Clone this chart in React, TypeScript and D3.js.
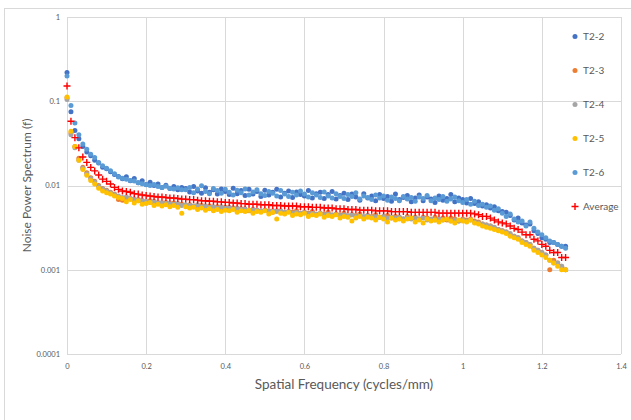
import React, { useRef, useEffect } from "react";
import * as d3 from "d3";

// Spatial frequency sampling (cycles/mm)
const FREQ = [
  0, 0.01, 0.02, 0.03, 0.04, 0.05, 0.06, 0.07, 0.08, 0.09,
  0.1, 0.11, 0.12, 0.13, 0.14, 0.15, 0.16, 0.17, 0.18, 0.19,
  0.2, 0.21, 0.22, 0.23, 0.24, 0.25, 0.26, 0.27, 0.28, 0.29,
  0.3, 0.31, 0.32, 0.33, 0.34, 0.35, 0.36, 0.37, 0.38, 0.39,
  0.4, 0.41, 0.42, 0.43, 0.44, 0.45, 0.46, 0.47, 0.48, 0.49,
  0.5, 0.51, 0.52, 0.53, 0.54, 0.55, 0.56, 0.57, 0.58, 0.59,
  0.6, 0.61, 0.62, 0.63, 0.64, 0.65, 0.66, 0.67, 0.68, 0.69,
  0.7, 0.71, 0.72, 0.73, 0.74, 0.75, 0.76, 0.77, 0.78, 0.79,
  0.8, 0.81, 0.82, 0.83, 0.84, 0.85, 0.86, 0.87, 0.88, 0.89,
  0.9, 0.91, 0.92, 0.93, 0.94, 0.95, 0.96, 0.97, 0.98, 0.99,
  1, 1.01, 1.02, 1.03, 1.04, 1.05, 1.06, 1.07, 1.08, 1.09,
  1.1, 1.11, 1.12, 1.13, 1.14, 1.15, 1.16, 1.17, 1.18, 1.19,
  1.2, 1.21, 1.22, 1.23, 1.24, 1.25, 1.26,
];

const T2_2 = [
  0.22, 0.075, 0.045, 0.036, 0.029, 0.025, 0.0225, 0.02, 0.0185, 0.0165,
  0.0158, 0.0146, 0.0135, 0.0128, 0.012, 0.0127, 0.0114, 0.0121, 0.0108, 0.0114,
  0.0103, 0.0109, 0.01, 0.0104, 0.0095, 0.0101, 0.0092, 0.0097, 0.0089, 0.0095,
  0.0092, 0.0084, 0.0097, 0.0086, 0.0081, 0.0094, 0.0083, 0.0089, 0.0079, 0.0091,
  0.0085, 0.0078, 0.0093, 0.008, 0.0087, 0.0076, 0.009, 0.0079, 0.0085, 0.0074,
  0.0088, 0.0077, 0.0083, 0.009, 0.0073, 0.0081, 0.0086, 0.0072, 0.0084, 0.0078,
  0.0075, 0.0087, 0.0071, 0.008, 0.0083, 0.007, 0.0078, 0.0085, 0.0069, 0.0076,
  0.0081, 0.0068, 0.0079, 0.0073, 0.0067, 0.008, 0.0071, 0.0075, 0.0066, 0.0078,
  0.007, 0.0074, 0.0065, 0.0079, 0.0068, 0.0072, 0.0076, 0.0064, 0.0071, 0.0077,
  0.0066, 0.0073, 0.0069, 0.0063, 0.0075, 0.0067, 0.007, 0.0078, 0.0064, 0.0071,
  0.0068, 0.0062, 0.007, 0.0061, 0.0064, 0.0057, 0.0059, 0.0054, 0.0056, 0.005,
  0.0049, 0.0048, 0.0044, 0.0039, 0.0041, 0.0036, 0.0034, 0.0035, 0.0029, 0.0027,
  0.0024, 0.0023, 0.0021, 0.0021, 0.002, 0.0019, 0.0019,
];

const T2_3 = [
  0.11, 0.042, 0.029, 0.021, 0.0165, 0.0142, 0.0124, 0.0112, 0.01, 0.0092,
  0.0088, 0.0083, 0.0079, 0.0068, 0.0067, 0.0072, 0.007, 0.0066, 0.0068, 0.0065,
  0.0064, 0.0066, 0.0062, 0.0063, 0.0061, 0.0063, 0.006, 0.0062, 0.0059, 0.006,
  0.0058, 0.0059, 0.0057, 0.0056, 0.0058, 0.0055, 0.0057, 0.0054, 0.0056, 0.0053,
  0.0055, 0.0052, 0.0054, 0.0051, 0.0053, 0.0052, 0.005, 0.0052, 0.0051, 0.0049,
  0.0051, 0.005, 0.0048, 0.005, 0.0049, 0.0047, 0.0049, 0.0048, 0.005, 0.0046,
  0.0048, 0.0047, 0.0049, 0.0045, 0.0047, 0.0046, 0.0048, 0.0044, 0.0046, 0.0045,
  0.0047, 0.0043, 0.0045, 0.0044, 0.0046, 0.0042, 0.0044, 0.0043, 0.0045, 0.0042,
  0.0043, 0.0044, 0.0041, 0.0043, 0.0042, 0.004, 0.0043, 0.0041, 0.0042, 0.004,
  0.0042, 0.0041, 0.0039, 0.0042, 0.004, 0.0041, 0.0039, 0.0041, 0.004, 0.0038,
  0.004, 0.0039, 0.004, 0.0038, 0.0037, 0.0035, 0.0034, 0.0033, 0.0031, 0.003,
  0.0029, 0.0028, 0.0026, 0.0025, 0.0024, 0.0022, 0.0021, 0.002, 0.0018, 0.0017,
  0.0016, 0.0015, 0.001, 0.0013, 0.0012, 0.0011, 0.001,
];

const T2_4 = [
  0.105, 0.04, 0.028, 0.02, 0.016, 0.0138, 0.0121, 0.011, 0.0098, 0.0091,
  0.0086, 0.0082, 0.0078, 0.0075, 0.0072, 0.0073, 0.007, 0.0069, 0.0066, 0.0067,
  0.0065, 0.0063, 0.0065, 0.0062, 0.0063, 0.0061, 0.0062, 0.006, 0.0061, 0.0058,
  0.0059, 0.0058, 0.0057, 0.0059, 0.0056, 0.0057, 0.0055, 0.0056, 0.0054, 0.0056,
  0.0054, 0.0055, 0.0053, 0.0054, 0.0052, 0.0053, 0.0051, 0.0052, 0.0051, 0.005,
  0.0051, 0.0049, 0.005, 0.0049, 0.005, 0.0048, 0.0049, 0.0047, 0.0048, 0.0047,
  0.0048, 0.0046, 0.0047, 0.0046, 0.0047, 0.0045, 0.0046, 0.0045, 0.0046, 0.0044,
  0.0045, 0.0044, 0.0045, 0.0043, 0.0044, 0.0043, 0.0044, 0.0042, 0.0043, 0.0042,
  0.0043, 0.0041, 0.0042, 0.0041, 0.0042, 0.004, 0.0041, 0.004, 0.0041, 0.004,
  0.0041, 0.0039, 0.004, 0.0039, 0.004, 0.0039, 0.004, 0.0038, 0.0039, 0.0038,
  0.0039, 0.0038, 0.0039, 0.0037, 0.0036, 0.0035, 0.0034, 0.0033, 0.0032, 0.003,
  0.0029, 0.0028, 0.0027, 0.0025, 0.0024, 0.0022, 0.0021, 0.002, 0.0018, 0.0017,
  0.0016, 0.0015, 0.0013, 0.0012, 0.0012, 0.0011, 0.001,
];

const T2_5 = [
  0.112, 0.044, 0.029, 0.02, 0.0155, 0.0132, 0.0115, 0.0104, 0.0093, 0.0086,
  0.0082, 0.0079, 0.0075, 0.0072, 0.007, 0.0064, 0.0068, 0.0062, 0.0066, 0.006,
  0.0061, 0.0063, 0.0058, 0.006, 0.0057, 0.0059, 0.0056, 0.0058, 0.0055, 0.0047,
  0.0056, 0.0054, 0.0055, 0.0052, 0.0054, 0.0051, 0.0053, 0.005, 0.0052, 0.0049,
  0.0051, 0.005, 0.0052, 0.0048, 0.005, 0.0049, 0.0051, 0.0047, 0.0049, 0.0048,
  0.005, 0.0046, 0.0048, 0.004, 0.0047, 0.0046, 0.0048, 0.0044, 0.0046, 0.0045,
  0.0047, 0.0043, 0.0045, 0.0044, 0.0046, 0.0042, 0.0044, 0.0043, 0.0045, 0.0041,
  0.0043, 0.0042, 0.0038, 0.0041, 0.0043, 0.004, 0.0042, 0.0041, 0.0039, 0.0042,
  0.004, 0.0037, 0.0041, 0.0039, 0.004, 0.0038, 0.004, 0.0041, 0.0037, 0.0039,
  0.0036, 0.004, 0.0038, 0.0039, 0.0037, 0.0039, 0.004, 0.0038, 0.0036, 0.0039,
  0.0038, 0.0037, 0.0039, 0.0036, 0.0035, 0.0033, 0.0032, 0.0031, 0.003, 0.0029,
  0.0028, 0.0027, 0.0025, 0.0024, 0.0023, 0.0021, 0.002, 0.0019, 0.0017, 0.0016,
  0.0015, 0.0014, 0.0013, 0.0012, 0.0011, 0.001, 0.001,
];

const T2_6 = [
  0.2, 0.089, 0.055, 0.04, 0.031, 0.027, 0.0235, 0.0215, 0.0188, 0.0172,
  0.016, 0.015, 0.0138, 0.0126, 0.0122, 0.0119, 0.0115, 0.0113, 0.0108, 0.0105,
  0.0102, 0.01, 0.0103, 0.0097, 0.0095, 0.0098, 0.0093, 0.0091, 0.0094, 0.0089,
  0.0089, 0.0095, 0.0082, 0.009, 0.0099, 0.0085, 0.008, 0.0092, 0.0087, 0.0081,
  0.009, 0.0083, 0.0077, 0.0088, 0.0082, 0.0091, 0.0077, 0.0084, 0.0089, 0.008,
  0.0076, 0.0085, 0.0081, 0.0075, 0.0087, 0.0079, 0.0074, 0.0083, 0.0077, 0.0086,
  0.0079, 0.0073, 0.0082, 0.0077, 0.0072, 0.0084, 0.0075, 0.0071, 0.008, 0.0074,
  0.007, 0.0078, 0.0074, 0.0082, 0.0069, 0.0075, 0.0072, 0.0068, 0.0077, 0.0071,
  0.0075, 0.0067, 0.0073, 0.007, 0.0066, 0.0074, 0.0069, 0.0072, 0.0065, 0.0073,
  0.007, 0.0076, 0.0066, 0.0071, 0.0068, 0.0074, 0.0065, 0.0069, 0.0073, 0.0066,
  0.0063, 0.0068, 0.006, 0.0065, 0.0058, 0.006, 0.0055, 0.0057, 0.0051, 0.0053,
  0.0047, 0.0043, 0.0046, 0.004, 0.0037, 0.0038, 0.0033, 0.0037, 0.0031, 0.0028,
  0.0026, 0.0024, 0.0022, 0.0021, 0.002, 0.0019, 0.0018,
];

const AVG = [
  0.152, 0.058, 0.037, 0.028, 0.0218, 0.0188, 0.0164, 0.0149, 0.0133, 0.0119,
  0.0112, 0.0104, 0.0095, 0.009, 0.0086, 0.0085, 0.0083, 0.008, 0.0079, 0.0077,
  0.0076, 0.0075, 0.0074, 0.0073, 0.0073, 0.0072, 0.0071, 0.0071, 0.007, 0.0069,
  0.0069, 0.0068, 0.0068, 0.0067, 0.0066, 0.0066, 0.0065, 0.0065, 0.0064, 0.0064,
  0.0063, 0.0063, 0.0062, 0.0062, 0.0061, 0.0061, 0.006, 0.006, 0.006, 0.0059,
  0.0059, 0.0059, 0.0058, 0.0058, 0.0058, 0.0057, 0.0057, 0.0057, 0.0057, 0.0056,
  0.0056, 0.0056, 0.0055, 0.0055, 0.0055, 0.0054, 0.0054, 0.0054, 0.0053, 0.0053,
  0.0053, 0.0052, 0.0052, 0.0052, 0.0051, 0.0051, 0.0051, 0.0051, 0.005, 0.005,
  0.005, 0.005, 0.0049, 0.0049, 0.0049, 0.0049, 0.0049, 0.0048, 0.0048, 0.0048,
  0.0048, 0.0048, 0.0048, 0.0048, 0.0047, 0.0047, 0.0047, 0.0047, 0.0047, 0.0047,
  0.0047, 0.0047, 0.0047, 0.0046, 0.0045, 0.0043, 0.0043, 0.0041, 0.0039, 0.0037,
  0.0036, 0.0035, 0.0033, 0.0031, 0.003, 0.0028, 0.0026, 0.0026, 0.0023, 0.0022,
  0.002, 0.0019, 0.0017, 0.0016, 0.0016, 0.0014, 0.0014,
];

const SERIES_NAMES = ["T2-2", "T2-3", "T2-4", "T2-5", "T2-6"];
const SERIES_VALUES = [T2_2, T2_3, T2_4, T2_5, T2_6];
const SERIES_COLORS = ["#4472C4", "#ED7D31", "#A5A5A5", "#FFC000", "#5B9BD5"];

const X_TICKS = [0, 0.2, 0.4, 0.6, 0.8, 1, 1.2, 1.4];
const Y_TICKS = [1, 0.1, 0.01, 0.001, 0.0001];
const Y_TICK_LABELS = ["1", "0.1", "0.01", "0.001", "0.0001"];

const FONT = "Lato, 'Open Sans', sans-serif";

const NoiseChart = () => {
  const svgRef = useRef(null);

  useEffect(() => {
    const width = 631;
    const height = 420;
    const plot = { left: 67, right: 621, top: 17, bottom: 354 };

    const svg = d3.select(svgRef.current).attr("width", width).attr("height", height);
    svg.selectAll("*").remove();

    // chart area
    svg.append("rect").attr("width", width).attr("height", height).attr("fill", "#fff");
    svg
      .append("rect")
      .attr("x", 4.5)
      .attr("y", 8.5)
      .attr("width", 800)
      .attr("height", 600)
      .attr("fill", "none")
      .attr("stroke", "#D9D9D9")
      .attr("stroke-width", 1);

    // Scales
    const xScale = d3.scaleLinear().domain([0, 1.4]).range([plot.left, plot.right]);
    const yScale = d3.scaleLog().domain([0.0001, 1]).range([plot.bottom, plot.top]);

    // Gridlines
    const grid = svg.append("g").attr("stroke", "#D9D9D9").attr("stroke-width", 1);
    grid
      .selectAll(".vgrid")
      .data(X_TICKS)
      .join("line")
      .attr("x1", (d) => Math.round(xScale(d)) + 0.5)
      .attr("x2", (d) => Math.round(xScale(d)) + 0.5)
      .attr("y1", plot.top)
      .attr("y2", plot.bottom);
    grid
      .selectAll(".hgrid")
      .data(Y_TICKS)
      .join("line")
      .attr("x1", plot.left)
      .attr("x2", plot.right)
      .attr("y1", (d) => Math.round(yScale(d)) + 0.5)
      .attr("y2", (d) => Math.round(yScale(d)) + 0.5);

    // Axis labels
    const xAxis = d3
      .axisBottom(xScale)
      .tickValues(X_TICKS)
      .tickSize(0)
      .tickPadding(10)
      .tickFormat((d) => `${d}`);
    const xg = svg.append("g").attr("transform", `translate(0, ${plot.bottom})`).call(xAxis);
    xg.select(".domain").remove();
    xg.selectAll("text").attr("fill", "#595959").style("font-family", FONT).style("font-size", "7.5px");

    const yAxis = d3
      .axisLeft(yScale)
      .tickValues(Y_TICKS)
      .tickSize(0)
      .tickPadding(7)
      .tickFormat((d, i) => Y_TICK_LABELS[i]);
    const yg = svg.append("g").attr("transform", `translate(${plot.left}, 0)`).call(yAxis);
    yg.select(".domain").remove();
    yg.selectAll("text").attr("fill", "#595959").style("font-family", FONT).style("font-size", "7.5px");

    // Titles
    svg
      .append("text")
      .attr("x", (plot.left + plot.right) / 2)
      .attr("y", 389)
      .attr("text-anchor", "middle")
      .attr("fill", "#595959")
      .style("font-family", FONT)
      .style("font-size", "13.5px")
      .text("Spatial Frequency (cycles/mm)");
    svg
      .append("text")
      .attr("transform", `translate(31, ${(plot.top + plot.bottom) / 2}) rotate(-90)`)
      .attr("text-anchor", "middle")
      .attr("fill", "#595959")
      .style("font-family", FONT)
      .style("font-size", "12px")
      .text("Noise Power Spectrum (f)");

    // Points
    const marks = svg.append("g");
    SERIES_VALUES.forEach((values, s) => {
      marks
        .append("g")
        .selectAll("circle")
        .data(values)
        .join("circle")
        .attr("cx", (d, i) => xScale(FREQ[i]))
        .attr("cy", (d) => yScale(d))
        .attr("r", 2.5)
        .attr("fill", SERIES_COLORS[s]);
    });

    // Average crosses
    const cross = "M-3.5,0H3.5M0,-3.5V3.5";
    marks
      .append("g")
      .selectAll("path")
      .data(AVG)
      .join("path")
      .attr("d", cross)
      .attr("transform", (d, i) => `translate(${xScale(FREQ[i])}, ${yScale(d)})`)
      .attr("stroke", "#FF0000")
      .attr("stroke-width", 1.4)
      .attr("fill", "none");

    // Legend
    const legendNames = [...SERIES_NAMES, "Average"];
    const legend = svg.append("g").attr("transform", "translate(575, 36.5)");
    const item = legend
      .selectAll("g")
      .data(legendNames)
      .join("g")
      .attr("transform", (d, i) => `translate(0, ${i * 34})`);
    item
      .filter((d, i) => i < SERIES_NAMES.length)
      .append("circle")
      .attr("r", 2.5)
      .attr("fill", (d, i) => SERIES_COLORS[i]);
    item
      .filter((d, i) => i === SERIES_NAMES.length)
      .append("path")
      .attr("d", cross)
      .attr("stroke", "#FF0000")
      .attr("stroke-width", 1.4);
    item
      .append("text")
      .attr("x", 8)
      .attr("y", 3.5)
      .attr("fill", "#595959")
      .style("font-family", FONT)
      .style("font-size", "10px")
      .text((d) => d);
  }, []);

  return <svg ref={svgRef} style={{ position: "absolute", left: 0, top: 0 }} />;
};

const App = () => {
  return <NoiseChart />;
};

export default App;
